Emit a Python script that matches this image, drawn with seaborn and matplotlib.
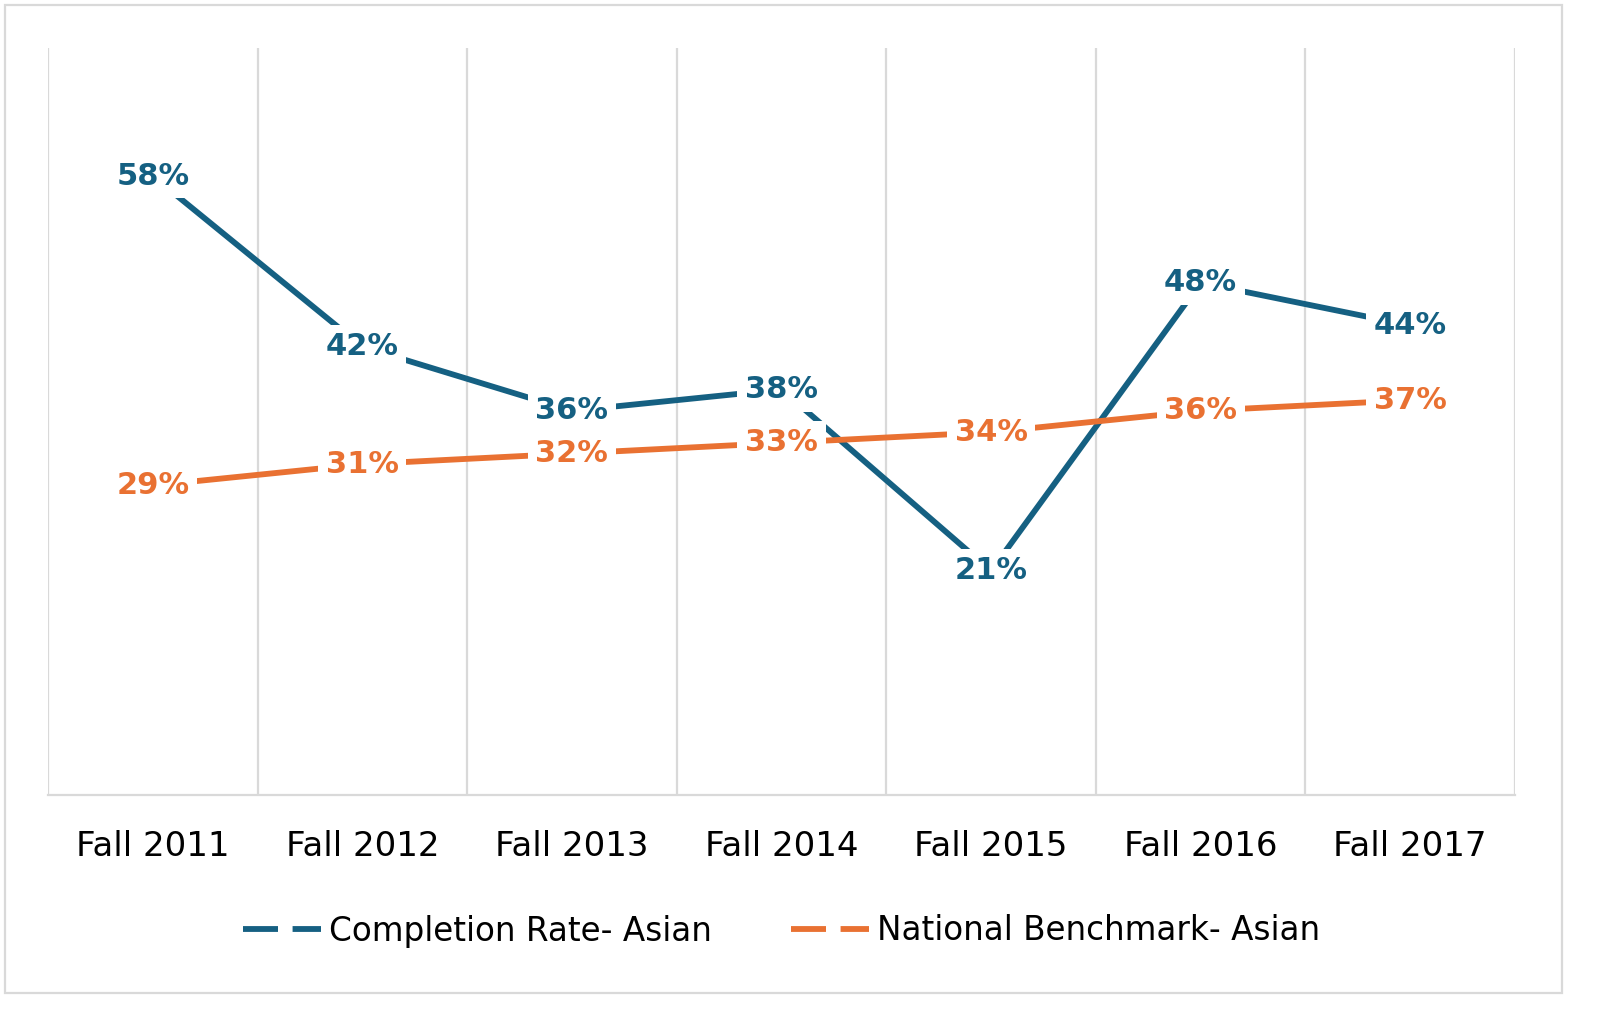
import matplotlib
matplotlib.use("Agg")
import matplotlib.pyplot as plt
import seaborn as sns
import pandas as pd
from matplotlib.lines import Line2D
from matplotlib.patches import Rectangle

categories = ["Fall 2011", "Fall 2012", "Fall 2013", "Fall 2014", "Fall 2015", "Fall 2016", "Fall 2017"]
completion = [58, 42, 36, 38, 21, 48, 44]
benchmark = [29, 31, 32, 33, 34, 36, 37]
series_names = ["Completion Rate- Asian", "National Benchmark- Asian"]
colors = ["#156082", "#E97132"]

sns.set_theme(style="white")
plt.rcParams["font.family"] = ["DejaVu Sans"]

df = pd.DataFrame({
    "term": categories * 2,
    "value": completion + benchmark,
    "series": [series_names[0]] * len(categories) + [series_names[1]] * len(categories),
})

fig = plt.figure(figsize=(16, 10.19), dpi=100)
ax = fig.add_axes([48/1600, 1-795/1019, (1515-48)/1600, (795-48)/1019])

sns.lineplot(data=df, x="term", y="value", hue="series", palette=colors,
             linewidth=4.2, ax=ax, legend=False, sort=False)

for vals, c in zip([completion, benchmark], colors):
    for i, v in enumerate(vals):
        ax.text(i, v, f"{v}%", ha="center", va="center", fontsize=22, fontweight="bold",
                color=c, zorder=5,
                bbox=dict(boxstyle="square,pad=0.25", fc="white", ec="none"))

ax.set_xlim(-0.5, len(categories) - 0.5)
ax.set_ylim(0, 70)
ax.set_yticks([])
ax.set_xlabel("")
ax.set_ylabel("")
for b in [i - 0.5 for i in range(len(categories) + 1)]:
    ax.axvline(b, color="#D9D9D9", lw=1.6, zorder=0)
for s in ["top", "left", "right"]:
    ax.spines[s].set_visible(False)
ax.spines["bottom"].set_color("#D9D9D9")
ax.spines["bottom"].set_linewidth(1.6)
ax.tick_params(axis="x", length=0, pad=25, labelsize=24.5, labelcolor="black")

handles = [Line2D([0], [0], color=c, lw=4.2, linestyle=(0, (6, 2.5)), solid_capstyle="butt")
           for c in colors]
leg = fig.legend(handles, series_names, loc="center", bbox_to_anchor=(781.5/1600, 1-931/1019),
                 ncol=2, frameon=False, fontsize=23.5, handlelength=2.4, handletextpad=0.25,
                 columnspacing=2.4)
for t in leg.get_texts():
    t.set_color("black")

fig.patches.append(Rectangle((5/1600, 1-993/1019), (1562-5)/1600, (993-5)/1019,
                             transform=fig.transFigure, fill=False, ec="#D9D9D9", lw=1.6))

fig.savefig("out.png", dpi=100, facecolor="white")
